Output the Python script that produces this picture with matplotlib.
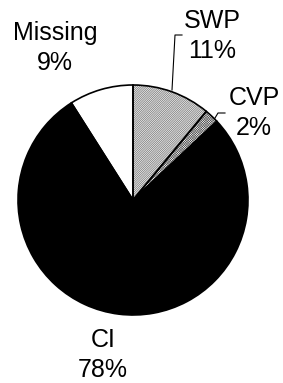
import matplotlib
matplotlib.use("Agg")
import matplotlib.pyplot as plt

# data
labels = ["SWP", "CVP", "CI", "Missing"]
values = [11, 2, 78, 9]
colors = ["white", "white", "black", "white"]
hatches = ["/" * 18, "x" * 14, None, None]

plt.rcParams["font.family"] = ["Liberation Sans", "DejaVu Sans"]
plt.rcParams["hatch.linewidth"] = 0.4

fig = plt.figure(figsize=(2.83, 3.83), dpi=100)
ax = fig.add_axes([0, 0, 1, 1])

center = (133, 383 - 200)
radius = 115

# fill + hatches
wedges, _ = ax.pie(values, colors=colors, startangle=90, counterclock=False,
                   center=center, radius=radius, frame=True,
                   wedgeprops=dict(linewidth=0, edgecolor="#555555"))
for w, h in zip(wedges, hatches):
    if h:
        w.set_hatch(h)
# outlines
ax.pie(values, colors=["none"] * 4, startangle=90, counterclock=False,
       center=center, radius=radius, frame=True,
       wedgeprops=dict(linewidth=1.2, edgecolor="black", fill=False))
ax.set_xlim(0, 283)
ax.set_ylim(0, 383)
ax.set_aspect("auto")
ax.axis("off")

# labels (text x, baseline of first line in px from top)
label_pos = [(212, 28), (254, 105), (103, 347), (55, 40)]
for lab, v, (x, y) in zip(labels, values, label_pos):
    ax.text(x, 383 - y, lab, ha="center", va="baseline", fontsize=18)
    ax.text(x, 383 - y - 30, f"{v}%", ha="center", va="baseline", fontsize=18)

# leader lines
ax.plot([182, 175, 172], [383 - 35, 383 - 35, 383 - 90], color="black", lw=0.8)
ax.plot([225, 218, 215], [383 - 113, 383 - 113, 383 - 118], color="black", lw=0.8)

fig.savefig("out.png", dpi=100)
